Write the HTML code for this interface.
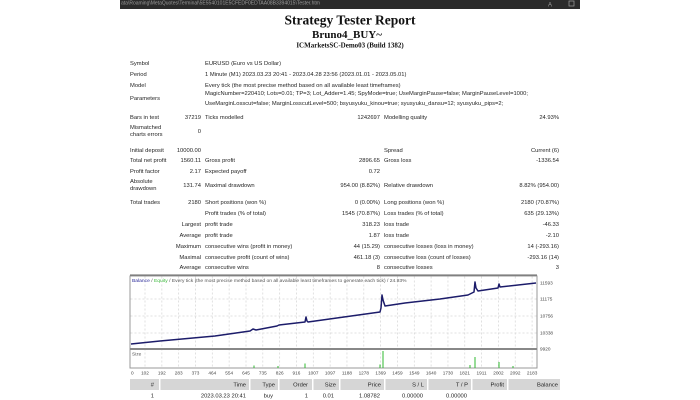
<!DOCTYPE html>
<html><head><meta charset="utf-8">
<style>
html,body{margin:0;padding:0;background:#fff;width:700px;height:400px;overflow:hidden}
svg{display:block}
.t{font-family:"Liberation Sans",sans-serif;font-size:11.6px;fill:#1f1f1f}
.e{text-anchor:end}
.s{font-family:"Liberation Sans",sans-serif;font-size:9.4px;fill:#444}
</style></head><body>
<svg width="700" height="400" viewBox="0 0 1400 800" xmlns="http://www.w3.org/2000/svg">
<rect x="0" y="0" width="1400" height="800" fill="#fff"/>
<!-- top bar -->
<rect x="240" y="0" width="920" height="18" fill="#2b2b2b"/>
<text x="242" y="9" font-family="Liberation Sans" font-size="10" fill="#9a9a9a">ata\Roaming\MetaQuotes\Terminal\5E5540101E5CFEDF0EDTAA08B3394015\Tester.htm</text>
<text x="1100" y="13" font-family="Liberation Sans" font-size="12" fill="#9a9a9a" text-anchor="middle">A</text>
<rect x="1138" y="2" width="10" height="10" fill="none" stroke="#9a9a9a" stroke-width="1.5"/>

<!-- titles -->
<text x="700" y="49" text-anchor="middle" font-family="Liberation Serif" font-weight="bold" font-size="27" fill="#111">Strategy Tester Report</text>
<text x="694" y="76" text-anchor="middle" font-family="Liberation Serif" font-weight="bold" font-size="22" fill="#111">Bruno4_BUY~</text>
<text x="700" y="95" text-anchor="middle" font-family="Liberation Serif" font-weight="bold" font-size="14" fill="#111">ICMarketsSC-Demo03 (Build 1382)</text>

<!-- col1 -->
<g class="t">
<text x="260" y="130">Symbol</text>
<text x="260" y="152">Period</text>
<text x="260" y="174">Model</text>
<text x="260" y="200">Parameters</text>
<text x="260" y="238">Bars in test</text>
<text x="260" y="258">Mismatched</text>
<text x="260" y="272">charts errors</text>
<text x="260" y="304">Initial deposit</text>
<text x="260" y="324">Total net profit</text>
<text x="260" y="346">Profit factor</text>
<text x="260" y="366">Absolute</text>
<text x="260" y="380">drawdown</text>
<text x="260" y="408">Total trades</text>
</g>
<!-- col2 -->
<g class="t e">
<text x="402" y="238">37219</text>
<text x="402" y="266">0</text>
<text x="402" y="304">10000.00</text>
<text x="402" y="324">1560.11</text>
<text x="402" y="346">2.17</text>
<text x="402" y="374">131.74</text>
<text x="402" y="408">2180</text>
<text x="402" y="452">Largest</text>
<text x="402" y="474">Average</text>
<text x="402" y="496">Maximum</text>
<text x="402" y="518">Maximal</text>
<text x="402" y="538">Average</text>
</g>
<!-- col3 -->
<g class="t">
<text x="410" y="130">EURUSD (Euro vs US Dollar)</text>
<text x="410" y="152">1 Minute (M1) 2023.03.23 20:41 - 2023.04.28 23:56 (2023.01.01 - 2023.05.01)</text>
<text x="410" y="174">Every tick (the most precise method based on all available least timeframes)</text>
<text x="410" y="190">MagicNumber=220410; Lots=0.01; TP=3; Lot_Adder=1.45; SpyMode=true; UseMarginPause=false; MarginPauseLevel=1000;</text>
<text x="410" y="210">UseMarginLosscut=false; MarginLosscutLevel=500; bsyusyuku_kinou=true; syusyuku_dansu=12; syusyuku_pips=2;</text>
<text x="410" y="238">Ticks modelled</text>
<text x="410" y="324">Gross profit</text>
<text x="410" y="346">Expected payoff</text>
<text x="410" y="374">Maximal drawdown</text>
<text x="410" y="408">Short positions (won %)</text>
<text x="410" y="430">Profit trades (% of total)</text>
<text x="410" y="452">profit trade</text>
<text x="410" y="474">profit trade</text>
<text x="410" y="496">consecutive wins (profit in money)</text>
<text x="410" y="518">consecutive profit (count of wins)</text>
<text x="410" y="538">consecutive wins</text>
</g>
<!-- col4 -->
<g class="t e">
<text x="760" y="238">1242697</text>
<text x="760" y="324">2896.65</text>
<text x="760" y="346">0.72</text>
<text x="760" y="374">954.00 (8.82%)</text>
<text x="760" y="408">0 (0.00%)</text>
<text x="760" y="430">1545 (70.87%)</text>
<text x="760" y="452">318.23</text>
<text x="760" y="474">1.87</text>
<text x="760" y="496">44 (15.29)</text>
<text x="760" y="518">461.18 (3)</text>
<text x="760" y="538">8</text>
</g>
<!-- col5 -->
<g class="t">
<text x="768" y="238">Modelling quality</text>
<text x="768" y="304">Spread</text>
<text x="768" y="324">Gross loss</text>
<text x="768" y="374">Relative drawdown</text>
<text x="768" y="408">Long positions (won %)</text>
<text x="768" y="430">Loss trades (% of total)</text>
<text x="768" y="452">loss trade</text>
<text x="768" y="474">loss trade</text>
<text x="768" y="496">consecutive losses (loss in money)</text>
<text x="768" y="518">consecutive loss (count of losses)</text>
<text x="768" y="538">consecutive losses</text>
</g>
<!-- col6 -->
<g class="t e">
<text x="1118" y="238">24.93%</text>
<text x="1118" y="304">Current (6)</text>
<text x="1118" y="324">-1336.54</text>
<text x="1118" y="374">8.82% (954.00)</text>
<text x="1118" y="408">2180 (70.87%)</text>
<text x="1118" y="430">635 (29.13%)</text>
<text x="1118" y="452">-46.33</text>
<text x="1118" y="474">-2.10</text>
<text x="1118" y="496">14 (-293.16)</text>
<text x="1118" y="518">-293.16 (14)</text>
<text x="1118" y="538">3</text>
</g>

<line x1="260" y1="550" x2="1074" y2="550" stroke="#666" stroke-width="2"/>

<!-- chart -->
<rect x="260" y="552" width="814" height="184" fill="#fff" stroke="#999" stroke-width="2"/>
<g stroke="#d6d6d6" stroke-width="1.5" stroke-dasharray="4,4">
<line x1="261" y1="598" x2="1073" y2="598"/>
<line x1="261" y1="632" x2="1073" y2="632"/>
<line x1="261" y1="666" x2="1073" y2="666"/>
<line x1="290" y1="553" x2="290" y2="735"/>
<line x1="323.7" y1="553" x2="323.7" y2="735"/>
<line x1="357.3" y1="553" x2="357.3" y2="735"/>
<line x1="391" y1="553" x2="391" y2="735"/>
<line x1="424.6" y1="553" x2="424.6" y2="735"/>
<line x1="458.3" y1="553" x2="458.3" y2="735"/>
<line x1="492" y1="553" x2="492" y2="735"/>
<line x1="525.6" y1="553" x2="525.6" y2="735"/>
<line x1="559.3" y1="553" x2="559.3" y2="735"/>
<line x1="592.9" y1="553" x2="592.9" y2="735"/>
<line x1="626.6" y1="553" x2="626.6" y2="735"/>
<line x1="660.3" y1="553" x2="660.3" y2="735"/>
<line x1="693.9" y1="553" x2="693.9" y2="735"/>
<line x1="727.6" y1="553" x2="727.6" y2="735"/>
<line x1="761.2" y1="553" x2="761.2" y2="735"/>
<line x1="794.9" y1="553" x2="794.9" y2="735"/>
<line x1="828.6" y1="553" x2="828.6" y2="735"/>
<line x1="862.2" y1="553" x2="862.2" y2="735"/>
<line x1="895.9" y1="553" x2="895.9" y2="735"/>
<line x1="929.5" y1="553" x2="929.5" y2="735"/>
<line x1="963.2" y1="553" x2="963.2" y2="735"/>
<line x1="996.9" y1="553" x2="996.9" y2="735"/>
<line x1="1030.5" y1="553" x2="1030.5" y2="735"/>
<line x1="1064.2" y1="553" x2="1064.2" y2="735"/>
</g>
<line x1="260" y1="698" x2="1074" y2="698" stroke="#888" stroke-width="4"/>

<text x="264" y="564" font-family="Liberation Sans" font-size="9.9" fill="#555"><tspan fill="#2a2a9a">Balance</tspan> / <tspan fill="#3cb83c">Equity</tspan> / Every tick (the most precise method based on all available least timeframes to generate each tick) / 24.93%</text>
<text x="264" y="711" font-family="Liberation Sans" font-size="9.6" fill="#555">Size</text>

<polyline fill="none" stroke="#1c1c6a" stroke-width="3" stroke-linejoin="round" points="262,688 320,682 430,672 500,662 506,658 512,660 554,652 558,650 610,644 612,634 614,642 616,644 760,624 762,616 764,590 766,600 770,612 810,606 880,598 936,590 940,588 948,584 950,564 952,576 956,582 996,576 998,568 1000,574 1072,566"/>

<g stroke="#2fb82f" stroke-width="2">
<line x1="766" y1="702" x2="766" y2="736"/>
<line x1="950" y1="714" x2="950" y2="736"/>
<line x1="998" y1="724" x2="998" y2="736"/>
<line x1="508" y1="731" x2="508" y2="736"/>
<line x1="556" y1="732" x2="556" y2="736"/>
<line x1="610" y1="727" x2="610" y2="736"/>
<line x1="760" y1="729" x2="760" y2="736"/>
<line x1="940" y1="730" x2="940" y2="736"/>
<line x1="1026" y1="732" x2="1026" y2="736"/>
</g>

<g class="s">
<text x="1080" y="569">11593</text>
<text x="1080" y="601">11175</text>
<text x="1080" y="635">10756</text>
<text x="1080" y="669">10338</text>
<text x="1080" y="701">9920</text>
</g>
<g class="s" text-anchor="middle">
<text x="262" y="749" text-anchor="start">0</text>
<text x="290" y="749">102</text>
<text x="323.7" y="749">192</text>
<text x="357.3" y="749">283</text>
<text x="391" y="749">373</text>
<text x="424.6" y="749">464</text>
<text x="458.3" y="749">554</text>
<text x="492" y="749">645</text>
<text x="525.6" y="749">735</text>
<text x="559.3" y="749">826</text>
<text x="592.9" y="749">916</text>
<text x="626.6" y="749">1007</text>
<text x="660.3" y="749">1097</text>
<text x="693.9" y="749">1188</text>
<text x="727.6" y="749">1278</text>
<text x="761.2" y="749">1369</text>
<text x="794.9" y="749">1459</text>
<text x="828.6" y="749">1549</text>
<text x="862.2" y="749">1640</text>
<text x="895.9" y="749">1730</text>
<text x="929.5" y="749">1821</text>
<text x="963.2" y="749">1911</text>
<text x="996.9" y="749">2002</text>
<text x="1030.5" y="749">2092</text>
<text x="1064.2" y="749">2183</text>
</g>

<!-- table header -->
<g fill="#d6d6d6">
<rect x="260" y="758" width="58" height="22"/>
<rect x="321" y="758" width="177" height="22"/>
<rect x="501" y="758" width="55" height="22"/>
<rect x="559" y="758" width="65" height="22"/>
<rect x="627" y="758" width="51" height="22"/>
<rect x="681" y="758" width="87" height="22"/>
<rect x="771" y="758" width="83" height="22"/>
<rect x="857" y="758" width="85" height="22"/>
<rect x="945" y="758" width="69" height="22"/>
<rect x="1017" y="758" width="103" height="22"/>
</g>
<g class="t e" fill="#333">
<text x="308" y="773">#</text>
<text x="492" y="773">Time</text>
<text x="550" y="773">Type</text>
<text x="616" y="773">Order</text>
<text x="672" y="773">Size</text>
<text x="762" y="773">Price</text>
<text x="848" y="773">S / L</text>
<text x="936" y="773">T / P</text>
<text x="1008" y="773">Profit</text>
<text x="1116" y="773">Balance</text>
</g>
<g class="t e">
<text x="308" y="795">1</text>
<text x="492" y="795">2023.03.23 20:41</text>
<text x="546" y="795">buy</text>
<text x="616" y="795">1</text>
<text x="668" y="795">0.01</text>
<text x="760" y="795">1.08782</text>
<text x="846" y="795">0.00000</text>
<text x="934" y="795">0.00000</text>
</g>
</svg>
</body></html>
